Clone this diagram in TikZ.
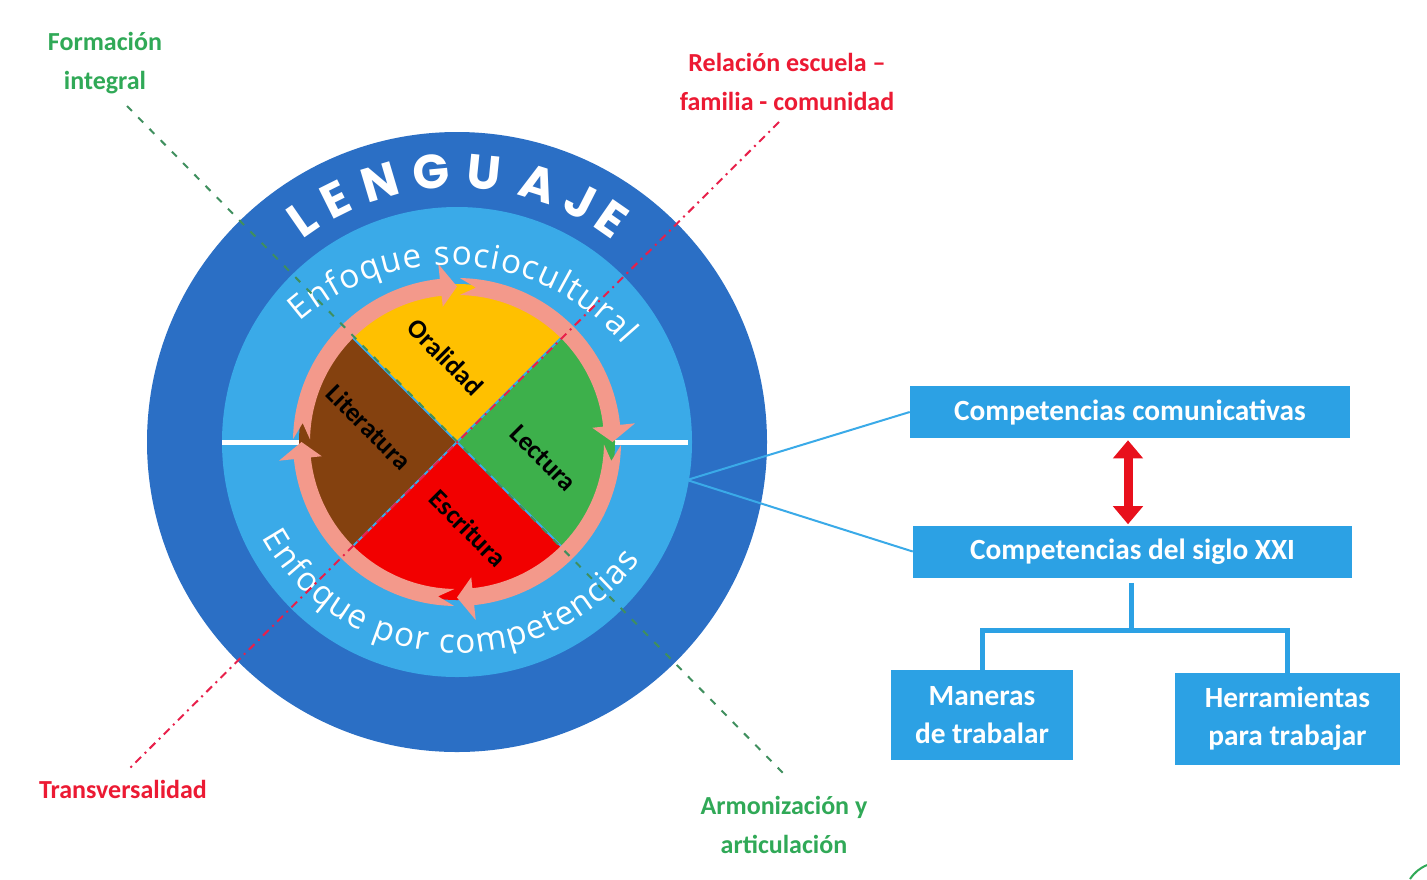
\documentclass[tikz,border=0pt]{standalone}
\usepackage{fontspec}
\setmainfont{Carlito}
\newfontfamily\osans{Open Sans}
\newfontfamily\pop{Poppins}
\usetikzlibrary{decorations.text,arrows.meta,calc}
\definecolor{darkb}{HTML}{2B6FC5}
\definecolor{lightb}{HTML}{3AAAE8}
\definecolor{boxb}{HTML}{2CA1E4}
\definecolor{salmon}{HTML}{F3998B}
\definecolor{yel}{HTML}{FFC000}
\definecolor{grn}{HTML}{3DB04B}
\definecolor{rd}{HTML}{F20000}
\definecolor{brn}{HTML}{84410F}
\definecolor{lblgreen}{HTML}{30A957}
\definecolor{lblred}{HTML}{EC1A33}
\definecolor{dashgreen}{HTML}{3F8F5E}
\definecolor{dashred}{HTML}{E8204A}
\definecolor{arrred}{HTML}{E8101C}
\def\px{0.75pt}
\newcommand\ringarrow[1]{%
  \fill[salmon] ({#1+89}:164) arc[start angle={#1+89}, end angle={#1+6}, radius=164*\px]
    -- ({#1+6}:179) -- (#1:155.5) -- ({#1+6}:136) -- ({#1+6}:147)
    arc[start angle={#1+6}, end angle={#1+89}, radius=147*\px]
    -- ({#1+83}:155.5) -- cycle;}
\begin{document}
\begin{tikzpicture}[x=0.75pt,y=0.75pt,
  lettr/.style={text=white, font=\pop\bfseries\fontsize{36}{36}\selectfont, inner sep=0pt},
  wlabel/.style={font=\bfseries\fontsize{20}{24}\selectfont, text=black, inner sep=0pt},
  boxn/.style={fill=boxb, text=white, font=\bfseries\fontsize{22}{28.5}\selectfont, align=center, inner sep=0pt},
  glabel/.style={text=lblgreen, font=\bfseries\fontsize{19.5}{29}\selectfont, align=center, inner sep=0pt},
  rlabel/.style={text=lblred, font=\bfseries\fontsize{19.5}{29}\selectfont, align=center, inner sep=0pt},
  link/.style={draw=lightb, line width=2*\px},
  tree/.style={draw=boxb, line width=5*\px},
  gdash/.style={draw=dashgreen, line width=2*\px, dash pattern=on 7*\px off 9*\px},
  rdash/.style={draw=dashred, line width=2*\px, dash pattern=on 8*\px off 5*\px on 2*\px off 5*\px},
  dblarrow/.style={draw=arrred, line width=9*\px, {Triangle[width=29*\px,length=18*\px]}-{Triangle[width=29*\px,length=18*\px]}}
]
\useasboundingbox (0,0) rectangle (1427,-879);
\fill[white] (0,0) rectangle (1427,-879);

% circles
\coordinate (C) at (457,-442);
\fill[darkb] (C) circle[radius=310*\px];
\fill[lightb] (C) circle[radius=235*\px];
\draw[white, line width=5*\px] (222,-442) -- (688,-442);

\begin{scope}[shift={(457,-442)}]
  \fill[yel] (0,0) -- (45:158) arc[start angle=45,end angle=135,radius=158*\px] -- cycle;
  \fill[brn] (0,0) -- (135:158) arc[start angle=135,end angle=225,radius=158*\px] -- cycle;
  \fill[rd] (0,0) -- (225:158) arc[start angle=225,end angle=315,radius=158*\px] -- cycle;
  \fill[grn] (0,0) -- (-45:158) arc[start angle=-45,end angle=45,radius=158*\px] -- cycle;
  \draw[lightb, line width=2*\px] (45:158) -- (225:158) (135:158) -- (315:158);
  \ringarrow{90}\ringarrow{0}\ringarrow{-90}\ringarrow{180}
  % LENGUAJE
  \node[lettr, rotate=34.7] (l1) at (124.7:271) {L};
  \node[lettr, rotate=26.5] (l2) at (116.5:271) {E};
  \node[lettr, rotate=16.6] (l3) at (106.6:271) {N};
  \node[lettr, rotate=5.4]  (l4) at (95.4:271) {G};
  \node[lettr, rotate=-5.8] (l5) at (84.2:271) {U};
  \node[lettr, rotate=-17.5] (l6) at (72.5:271) {A};
  \node[lettr, rotate=-27] (l7) at (63:271) {J};
  \node[lettr, rotate=-34.8] (l8) at (55.2:271) {E};
\end{scope}

\begin{scope}[shift={(450,-492)}]
  \path[decorate, decoration={text along path, text color=white, text align={fit to path},
     text={|\osans\fontsize{25}{30}\selectfont|Enfoque sociocultural}}]
     (131.4:227) arc[start angle=131.4, end angle=40.4, radius=227*\px];
\end{scope}
\begin{scope}[shift={(458,-429)}]
  \path[decorate, decoration={text along path, text color=white, text align={fit to path},
     text={|\osans\fontsize{25}{30}\selectfont|Enfoque por competencias}}]
     (208.9:224) arc[start angle=208.9, end angle=324.3, radius=224*\px];
\end{scope}

% wedge labels
\node[wlabel, rotate=-45] (oral) at (446,-357) {Oralidad};
\node[wlabel, rotate=-45] (lect) at (543,-458) {Lectura};
\node[wlabel, rotate=-45] (escr) at (468,-528) {Escritura};
\node[wlabel, rotate=-45] (lite) at (369,-427) {Literatura};

% boxes
\node[boxn, minimum width=440*\px, minimum height=52*\px] (b1) at (1130,-412) {Competencias comunicativas};
\node[boxn, minimum width=439*\px, minimum height=52*\px] (b2) at (1132.5,-551.5) {Competencias del siglo XXI};
\node[boxn, minimum width=182*\px, minimum height=90*\px] (b3) at (982,-715) {Maneras\\de trabalar};
\node[boxn, minimum width=225*\px, minimum height=92*\px] (b4) at (1287.5,-719) {Herramientas\\para trabajar};

% links from circle
\coordinate (cs) at (687,-480);
\draw[link] (cs) -- (b1.west);
\draw[link] (cs) -- (b2.west);

% red double arrow
\draw[dblarrow] ([yshift=-2*\px]b1.south -| 1128,0) -- ([yshift=1*\px]b2.north -| 1128,0);

% tree
\coordinate (j) at (1131,-630);
\draw[tree] ([yshift=-5*\px]b2.south -| j) -- (j);
\draw[tree] (b3.north) |- (j) -| (b4.north);

% dashed diagonals
\coordinate (g1) at (127,-106);
\coordinate (g2) at (784,-774);
\coordinate (r1) at (779,-122);
\coordinate (r2) at (127,-771);
\draw[gdash] (g1) -- (g2);
\draw[rdash] (r1) -- (r2);

% outer labels
\node[glabel] (fi) at (105,-63) {Formación\\integral};
\node[rlabel] (re) at (787,-82) {Relación escuela –\\familia - comunidad};
\node[rlabel] (tr) at (123,-789) {Transversalidad};
\node[glabel] (ar) at (784,-825) {Armonización y\\articulación};

% corner fragment
\draw[lblgreen, line width=2*\px] (1410,-879) to[bend left=15] (1427,-865);
\end{tikzpicture}
\end{document}
